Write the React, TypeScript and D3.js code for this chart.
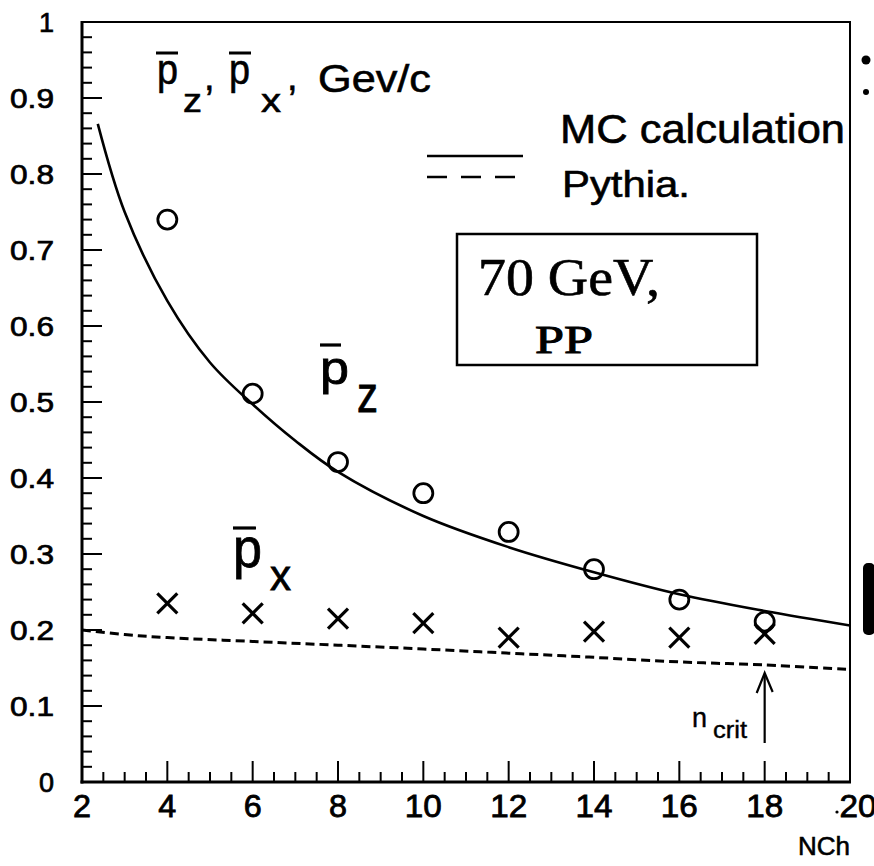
import React from 'react';
import * as d3 from 'd3';

const W = 874;
const H = 866;

// axis ticks
const xTickValues = [2, 4, 6, 8, 10, 12, 14, 16, 18, 20];
const xTickLabels = ['2', '4', '6', '8', '10', '12', '14', '16', '18', '20'];
const yTickValues = [0, 0.1, 0.2, 0.3, 0.4, 0.5, 0.6, 0.7, 0.8, 0.9, 1];
const yTickLabels = ['0', '0.1', '0.2', '0.3', '0.4', '0.5', '0.6', '0.7', '0.8', '0.9', '1'];

// measured points
const nchValues = [4, 6, 8, 10, 12, 14, 16, 18];
const pzValues = [0.74, 0.511, 0.421, 0.38, 0.329, 0.28, 0.24, 0.211];
const pxValues = [0.235, 0.222, 0.215, 0.209, 0.19, 0.198, 0.19, 0.195];

// MC calculation (solid curve)
const mcX = [2.37, 3, 4, 5, 6, 7, 8, 10, 12, 14, 16, 18, 20];
const mcY = [0.866, 0.75, 0.633, 0.552, 0.497, 0.449, 0.408, 0.35, 0.309, 0.276, 0.247, 0.225, 0.206];

// Pythia (dashed curve)
const pyX = [2, 3, 4, 6, 8, 10, 12, 14, 16, 18, 20];
const pyY = [0.2, 0.194, 0.19, 0.185, 0.18, 0.175, 0.1695, 0.164, 0.158, 0.154, 0.148];

const SANS = "'Liberation Sans', Arial, Helvetica, sans-serif";
const SERIF = "'Liberation Serif', 'Times New Roman', serif";

export default function App() {
  const x = d3.scaleLinear().domain([2, 20]).range([82, 850]);
  const y = d3.scaleLinear().domain([0, 1]).range([782, 22]);

  const line = d3
    .line<[number, number]>()
    .x((d) => x(d[0]))
    .y((d) => y(d[1]))
    .curve(d3.curveCatmullRom.alpha(0.5));

  const mcPath = line(mcX.map((v, i) => [v, mcY[i]] as [number, number])) || '';
  const pyPath = line(pyX.map((v, i) => [v, pyY[i]] as [number, number])) || '';

  const xMinor = d3.range(2, 20.001, 0.5);
  const yMinor = d3.range(0, 1.0001, 0.02);

  const [x0, x1] = x.range();
  const [y0, y1] = y.range();

  return (
    <svg
      width={W}
      height={H}
      viewBox={`0 0 ${W} ${H}`}
      style={{ position: 'absolute', left: 0, top: 0, background: '#fff' }}
      fontFamily={SANS}
    >
      <rect x={0} y={0} width={W} height={H} fill="#fff" />

      {/* ticks */}
      <g stroke="#000" strokeWidth={2}>
        {yMinor.map((v, i) => {
          const major = Math.abs(v * 10 - Math.round(v * 10)) < 1e-6;
          return <line key={'ym' + i} x1={x0} x2={x0 + (major ? 20 : 10)} y1={y(v)} y2={y(v)} />;
        })}
        {xMinor.map((v, i) => {
          const major = Math.abs(v / 2 - Math.round(v / 2)) < 1e-6;
          return <line key={'xm' + i} x1={x(v)} x2={x(v)} y1={y0} y2={y0 - (major ? 21 : 10)} />;
        })}
      </g>

      {/* frame */}
      <line x1={x0} x2={x0} y1={y1 - 1} y2={y0 + 1.5} stroke="#000" strokeWidth={3} />
      <line x1={x0 - 1.5} x2={x1 + 1} y1={y0} y2={y0} stroke="#000" strokeWidth={3} />
      <line x1={x0} x2={x1 + 1} y1={y1} y2={y1} stroke="#000" strokeWidth={2} />
      <line x1={x1} x2={x1} y1={y1} y2={y0} stroke="#000" strokeWidth={2} />

      {/* y tick labels */}
      <g fontSize={27} fill="#000" stroke="#000" strokeWidth={0.7}>
        {yTickValues.map((v, i) => (
          <text
            key={'yl' + i}
            x={54}
            y={y(v) + 9.5}
            textAnchor="end"
            {...(yTickLabels[i].length > 1 ? { textLength: 44, lengthAdjust: 'spacingAndGlyphs' } : {})}
          >
            {yTickLabels[i]}
          </text>
        ))}
      </g>

      {/* x tick labels */}
      <g fontSize={31} fill="#000" stroke="#000" strokeWidth={0.8}>
        {xTickValues.map((v, i) => {
          const last = i === xTickValues.length - 1;
          return (
            <text
              key={'xl' + i}
              x={x(v) + (last ? 8 : 0)}
              y={817}
              textAnchor="middle"
              textLength={xTickLabels[i].length > 1 ? 37 : 18}
              lengthAdjust="spacingAndGlyphs"
            >
              {xTickLabels[i]}
            </text>
          );
        })}
      </g>
      <circle cx={x(20) - 13} cy={812} r={1.6} fill="#000" />
      <text x={x(20)} y={855} fontSize={26} textAnchor="end" fill="#000" stroke="#000" strokeWidth={0.6}>
        NCh
      </text>

      {/* curves */}
      <path d={mcPath} fill="none" stroke="#000" strokeWidth={2.6} />
      <path d={pyPath} fill="none" stroke="#000" strokeWidth={3} strokeDasharray="9,5" />

      {/* markers */}
      <g fill="none" stroke="#000" strokeWidth={2.8}>
        {nchValues.map((v, i) => (
          <circle key={'c' + i} cx={x(v)} cy={y(pzValues[i])} r={9.5} />
        ))}
      </g>
      <g stroke="#000" strokeWidth={3.2}>
        {nchValues.map((v, i) => {
          const cx = x(v);
          const cy = y(pxValues[i]);
          const s = 10;
          return (
            <g key={'x' + i}>
              <line x1={cx - s} y1={cy - s} x2={cx + s} y2={cy + s} />
              <line x1={cx - s} y1={cy + s} x2={cx + s} y2={cy - s} />
            </g>
          );
        })}
      </g>

      {/* title: p̄z, p̄x, Gev/c */}
      <g fill="#000" stroke="#000" strokeWidth={0.6}>
        <text x={157} y={84} fontSize={42} textLength={21} lengthAdjust="spacingAndGlyphs">p</text>
        <text x={183} y={112} fontSize={34} textLength={19} lengthAdjust="spacingAndGlyphs">z</text>
        <text x={204} y={90} fontSize={38}>,</text>
        <text x={229} y={84} fontSize={42} textLength={21} lengthAdjust="spacingAndGlyphs">p</text>
        <text x={261} y={112} fontSize={34} textLength={20} lengthAdjust="spacingAndGlyphs">x</text>
        <text x={287} y={90} fontSize={38}>,</text>
        <text x={318} y={92} fontSize={38} textLength={113} lengthAdjust="spacingAndGlyphs">Gev/c</text>
      </g>
      <line x1={156} x2={178} y1={53} y2={53} stroke="#000" strokeWidth={3} />
      <line x1={229} x2={251} y1={53} y2={53} stroke="#000" strokeWidth={3} />

      {/* legend */}
      <line x1={427} x2={523} y1={156} y2={156} stroke="#000" strokeWidth={2.5} />
      <line x1={427} x2={515} y1={177} y2={177} stroke="#000" strokeWidth={2.5} strokeDasharray="20,14" />
      <g fill="#000" stroke="#000" strokeWidth={0.6}>
        <text x={560} y={143} fontSize={40} textLength={285} lengthAdjust="spacingAndGlyphs">
          MC calculation
        </text>
        <text x={562} y={197} fontSize={37} textLength={128} lengthAdjust="spacingAndGlyphs">
          Pythia.
        </text>
      </g>

      {/* info box */}
      <rect x={457} y={234} width={300} height={131} fill="none" stroke="#000" strokeWidth={2.5} />
      <g fontFamily={SERIF} fill="#000" stroke="#000">
        <text x={478} y={295} fontSize={52} strokeWidth={0.6} textLength={182} lengthAdjust="spacingAndGlyphs">
          70 GeV,
        </text>
        <text x={535} y={353} fontSize={40} strokeWidth={1} textLength={58} lengthAdjust="spacingAndGlyphs">
          PP
        </text>
      </g>

      {/* p̄z label */}
      <g fill="#000" stroke="#000" strokeWidth={0.8}>
        <text x={320} y={384} fontSize={46} textLength={29} lengthAdjust="spacingAndGlyphs">p</text>
        <text x={357} y={412} fontSize={50} textLength={21} lengthAdjust="spacingAndGlyphs">z</text>
      </g>
      <line x1={320} x2={341} y1={345} y2={345} stroke="#000" strokeWidth={3.2} />

      {/* p̄x label */}
      <g fill="#000" stroke="#000" strokeWidth={0.8}>
        <text x={233} y={567} fontSize={56} textLength={29} lengthAdjust="spacingAndGlyphs">p</text>
        <text x={270} y={590} fontSize={42} textLength={21} lengthAdjust="spacingAndGlyphs">x</text>
      </g>
      <line x1={233} x2={256} y1={528} y2={528} stroke="#000" strokeWidth={3.2} />

      {/* n_crit arrow */}
      <g fill="#000" stroke="#000" strokeWidth={0.4}>
        <text x={692} y={727} fontSize={27}>n</text>
        <text x={713} y={738} fontSize={23} textLength={34} lengthAdjust="spacingAndGlyphs">crit</text>
      </g>
      <line x1={x(18)} x2={x(18)} y1={743} y2={674} stroke="#000" strokeWidth={2.2} />
      <polyline
        points={`${x(18) - 8},${693} ${x(18)},${673} ${x(18) + 8},${692}`}
        fill="none"
        stroke="#000"
        strokeWidth={2.2}
      />

      {/* fragments of neighbouring figure at right edge */}
      <circle cx={866} cy={60} r={4.5} fill="#000" />
      <circle cx={866} cy={92} r={3} fill="#000" />
      <rect x={863} y={563} width={12} height={72} rx={5} fill="#000" />
    </svg>
  );
}
